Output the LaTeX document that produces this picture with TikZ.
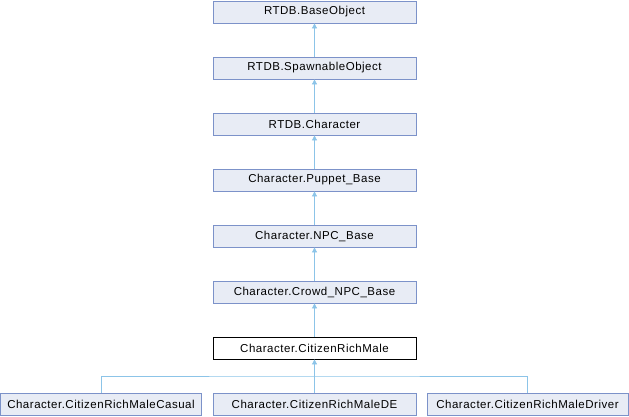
\documentclass[tikz,border=0pt]{standalone}
\usepackage{fontspec}
\setmainfont{Liberation Sans}[LetterSpace=4.5]
\usetikzlibrary{arrows.meta}
\definecolor{boxfill}{HTML}{E8ECF5}
\definecolor{boxline}{HTML}{7C92C9}
\definecolor{edge}{HTML}{8CC4E8}
\begin{document}
\begin{tikzpicture}[x=1pt,y=-1pt,
  cls/.style={draw=boxline, fill=boxfill, line width=0.8pt, minimum width=203pt, minimum height=22pt, inner sep=0pt, font=\fontsize{11.5}{13}\selectfont},
  cur/.style={cls, draw=black, fill=white},
  inh/.style={draw=edge, line width=0.8pt, -{Triangle[length=5pt,width=5pt]}}]
\useasboundingbox (0,0) rectangle (629,416);
\node[cls] (a) at (314.5,12) {RTDB.BaseObject};
\node[cls] (b) at (314.5,68) {RTDB.SpawnableObject};
\node[cls] (c) at (314.5,124) {RTDB.Character};
\node[cls] (d) at (314.5,180) {Character.Puppet\_Base};
\node[cls] (e) at (314.5,236) {Character.NPC\_Base};
\node[cls] (f) at (314.5,292) {Character.Crowd\_NPC\_Base};
\node[cur] (g) at (314.5,348) {Character.CitizenRichMale};
\node[cls, minimum width=201pt] (h1) at (101,404) {Character.CitizenRichMaleCasual};
\node[cls] (h2) at (314.5,404) {Character.CitizenRichMaleDE};
\node[cls, minimum width=201pt] (h3) at (527.5,404) {Character.CitizenRichMaleDriver};
\draw[inh] (b) -- (a);
\draw[inh] (c) -- (b);
\draw[inh] (d) -- (c);
\draw[inh] (e) -- (d);
\draw[inh] (f) -- (e);
\draw[inh] (g) -- (f);
\coordinate (j) at (314.5,376);
\draw[inh] (h2) -- (g);
\draw[draw=edge, line width=0.8pt] (h1.north) |- (j) -| (h3.north);
\end{tikzpicture}
\end{document}
